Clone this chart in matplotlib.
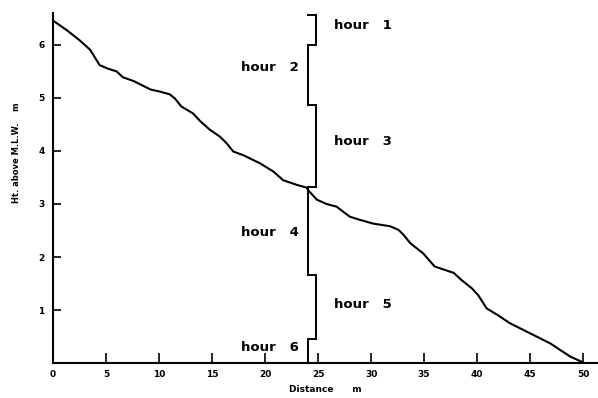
import matplotlib
matplotlib.use("Agg")
import matplotlib.pyplot as plt

# Beach profile: distance along transect (m) and height above M.L.W. (m)
distance = [0.0, 1.3, 2.5, 3.5, 4.4, 5.1, 6.0, 6.6, 7.6, 9.2, 10.1, 11.0, 11.5,
            12.1, 13.2, 13.9, 14.8, 15.75, 16.4, 17.0, 17.95, 19.5, 20.8, 21.7,
            23.0, 23.9, 24.2, 24.9, 25.8, 26.75, 27.4, 28.0, 28.96, 30.2, 31.8,
            32.6, 33.05, 33.7, 34.9, 36.0, 37.8, 38.5, 39.5, 40.1, 40.9, 41.9,
            43.1, 44.7, 46.9, 47.8, 48.8, 49.9]
height = [6.46, 6.28, 6.09, 5.91, 5.62, 5.56, 5.50, 5.39, 5.32, 5.16, 5.12, 5.07,
          4.99, 4.84, 4.71, 4.56, 4.40, 4.27, 4.14, 3.99, 3.92, 3.77, 3.61, 3.45,
          3.36, 3.31, 3.23, 3.08, 3.00, 2.95, 2.85, 2.76, 2.70, 2.63, 2.58, 2.51,
          2.42, 2.26, 2.07, 1.82, 1.70, 1.57, 1.41, 1.28, 1.03, 0.91, 0.75, 0.59,
          0.37, 0.25, 0.12, 0.02]

# Tide level at each hour boundary (m above M.L.W.)
hour_bounds = [6.57, 6.0, 4.87, 3.32, 1.66, 0.45, 0.0]
hour_labels = ["hour   1", "hour   2", "hour   3", "hour   4", "hour   5", "hour   6"]
bracket_x = (24.05, 24.8)

x_ticks = [0, 5, 10, 15, 20, 25, 30, 35, 40, 45, 50]
y_ticks = [1, 2, 3, 4, 5, 6]

fig = plt.figure(figsize=(5.98, 3.98), dpi=100)
ax = fig.add_axes([0.0886, 0.0879, 0.9114, 0.879])
ax.set_xlim(0, 51.4)
ax.set_ylim(0, 6.6)

ax.plot(distance, height, color="black", lw=1.5, solid_joinstyle="round",
        solid_capstyle="round", zorder=3)

# Stepped bracket marking the span covered by each hour
bx, by = [bracket_x[0]], [hour_bounds[0]]
for i in range(len(hour_bounds) - 1):
    side = bracket_x[1] if i % 2 == 0 else bracket_x[0]
    bx += [side, side]
    by += [hour_bounds[i], hour_bounds[i + 1]]
ax.plot(bx, by, color="black", lw=1.4, solid_joinstyle="miter", zorder=2)

label_pos = [(26.5, 6.36, "left"), (23.2, 5.58, "right"), (26.5, 4.17, "left"),
             (23.2, 2.47, "right"), (26.5, 1.11, "left"), (23.2, 0.30, "right")]
for (lx, ly, ha), txt in zip(label_pos, hour_labels):
    ax.text(lx, ly, txt, ha=ha, va="center", fontsize=9.5, fontweight="bold",
            family="DejaVu Sans")

for s in ("top", "right"):
    ax.spines[s].set_visible(False)
for s in ("left", "bottom"):
    ax.spines[s].set_linewidth(1.5)

ax.set_xticks(x_ticks)
ax.set_yticks(y_ticks)
ax.tick_params(axis="x", direction="in", length=7, width=1.2, pad=5,
               labelsize=6.5)
ax.tick_params(axis="y", direction="in", length=6, width=1.2, pad=6,
               labelsize=6.5)
for lab in ax.get_xticklabels() + ax.get_yticklabels():
    lab.set_fontweight("bold")

ax.set_xlabel("Distance      m", fontsize=6.5, fontweight="bold", labelpad=4)
ax.set_ylabel("Ht. above M.L.W.    m", fontsize=6, fontweight="bold")
ax.yaxis.set_label_coords(-0.058, 0.60)

fig.savefig("out.png", dpi=100)
